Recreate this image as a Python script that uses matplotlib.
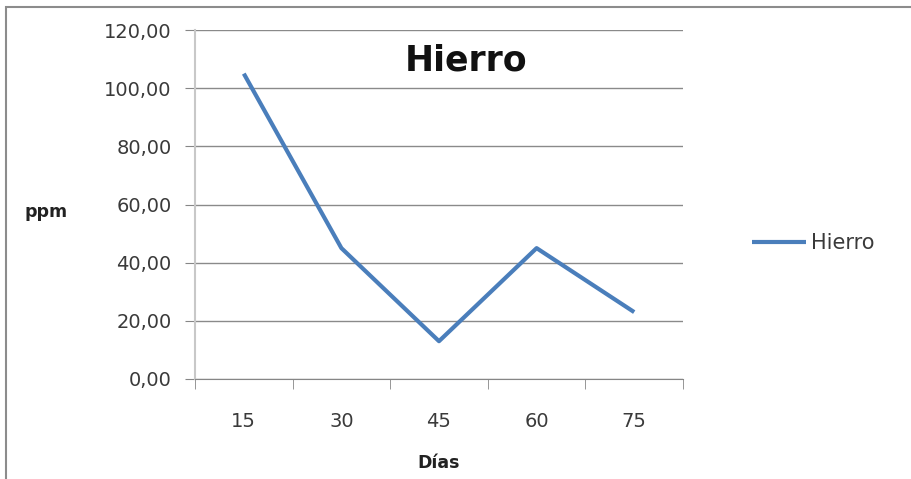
import matplotlib.pyplot as plt
from matplotlib.patches import Rectangle
from matplotlib.ticker import FuncFormatter

dias = ['15', '30', '45', '60', '75']
hierro = [105, 45, 13, 45, 23]

plt.rcParams['font.family'] = ['DejaVu Sans']

W, H = 912, 479
fig = plt.figure(figsize=(W / 100, H / 100), dpi=100)

# marco gris del grafico (cortado a la derecha y abajo)
fig.patches.append(Rectangle((6 / W, -0.1), 1.2, 1 - 7 / H + 0.1,
                             transform=fig.transFigure, fill=False,
                             edgecolor='#8c8c8c', linewidth=1.5))

ax = fig.add_axes([195 / W, 1 - 379 / H, 488 / W, 349 / H])
x = range(len(dias))
ax.plot(x, hierro, color='#4a7ebb', linewidth=3, label='Hierro',
        solid_capstyle='butt')

ax.set_xlim(-0.5, len(dias) - 0.5)
ax.set_ylim(0, 120)
ax.set_yticks(range(0, 121, 20))
ax.yaxis.set_major_formatter(FuncFormatter(lambda v, p: f'{v:.2f}'.replace('.', ',')))
ax.set_xticks(list(x))
ax.set_xticklabels(dias)
ax.set_xticks([i - 0.5 for i in range(len(dias) + 1)], minor=True)

ax.grid(axis='y', color='#8a8a8a', linewidth=1)
ax.set_axisbelow(True)
for s in ['top', 'right']:
    ax.spines[s].set_visible(False)
ax.spines['left'].set_color('#c8c8c8')
ax.spines['left'].set_linewidth(1.5)
ax.spines['bottom'].set_color('#868686')

ax.tick_params(axis='y', length=7, color='#868686', labelsize=14,
               labelcolor='#3a3a3a', pad=10)
ax.tick_params(axis='x', which='major', length=0, labelsize=14,
               labelcolor='#3a3a3a', pad=24)
ax.tick_params(axis='x', which='minor', length=7, color='#868686')

ax.text(0.555, 0.914, 'Hierro', transform=ax.transAxes, ha='center',
        va='center', fontsize=25, fontweight='bold', color='#111111')
fig.text(46 / W, 1 - 212 / H, 'ppm', ha='center', va='center',
         fontsize=12.5, fontweight='bold', color='#222222')
fig.text(439 / W, 1 - 463 / H, 'Días', ha='center', va='center',
         fontsize=12.5, fontweight='bold', color='#222222')

ax.legend(loc='center left', bbox_to_anchor=(752 / W, 1 - 243 / H),
          bbox_transform=fig.transFigure, frameon=False, fontsize=15,
          borderpad=0, borderaxespad=0,
          handlelength=2.6, handletextpad=0.25, labelcolor='#3a3a3a')

fig.savefig('out.png', dpi=100, facecolor='white')
